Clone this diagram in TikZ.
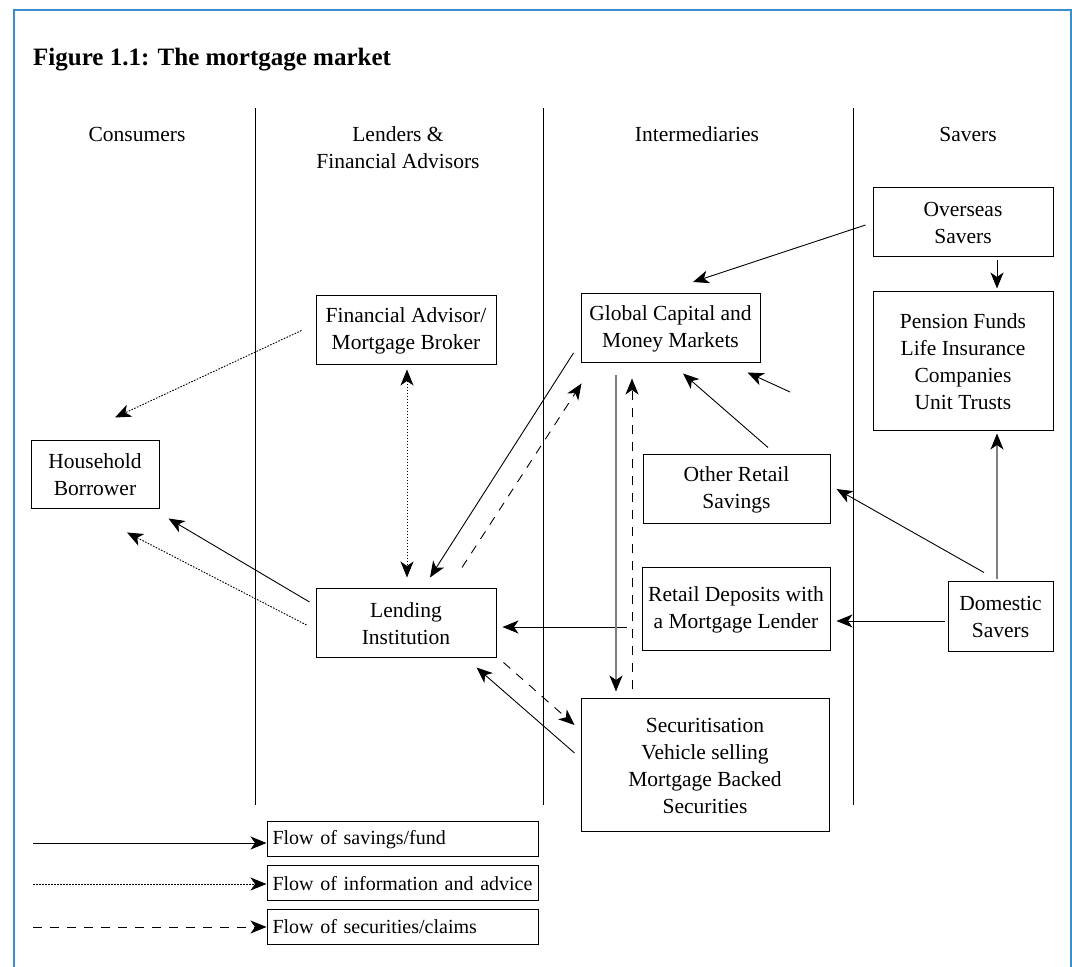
\documentclass[tikz,border=0pt]{standalone}
\usepackage{fontspec}
\setmainfont{Liberation Serif}
\usetikzlibrary{arrows.meta, calc}

\definecolor{framecol}{RGB}{58,142,204}

\tikzset{
	box/.style={draw, line width=1pt, align=center, inner sep=0pt, font=\fontsize{21.5}{27}\selectfont},
	heading/.style={align=center, inner sep=0pt, font=\fontsize{21.5}{27}\selectfont},
	key/.style={draw, line width=1pt, align=left, text width=260pt, inner xsep=5.5pt, inner ysep=0pt, minimum height=35pt, font=\fontsize{20}{24}\selectfont},
	flowtip/.tip={Stealth[length=16pt,width=13pt,inset=4.5pt]},
	flow/.style={line width=0.9pt, -flowtip},
	flowgrey/.style={line width=1.1pt, draw=black!50, -{Stealth[length=16pt,width=13pt,inset=4.5pt,color=black]}},
	info/.style={flow, dash pattern=on 1.6pt off 1.4pt},
	claim/.style={flow, dash pattern=on 9pt off 8pt},
}

\begin{document}
\begin{tikzpicture}[x=1pt, y=1pt]
		\useasboundingbox (0,0) rectangle (1072,967);

		\def\yTOP{859};
		\def\yBOT{162};

		% frame, open at the bottom
		\draw[line width=2pt, framecol] (14,0) -- (14,957) -- (1071,957) -- (1071,0);

		\node[anchor=west, inner sep=0pt, font=\bfseries\fontsize{25}{30}\selectfont] (title) at (33,907) {Figure 1.1: The mortgage market};

		% columns
		\begin{scope}[line width=1pt]
			\draw (255,\yTOP) -- (255,\yBOT);
			\draw (543,\yTOP) -- (543,\yBOT);
			\draw (853,\yTOP) -- (853,\yBOT);
		\end{scope}

		\node[heading] (consumers) at (137,833) {Consumers};
		\node[heading] (lenders) at (398,819.5) {Lenders \&\\Financial Advisors};
		\node[heading] (intermed) at (697,833) {Intermediaries};
		\node[heading] (savers) at (968,833) {Savers};

		% boxes
		\node[box, minimum width=128pt, minimum height=68pt] (house) at (95,492) {Household\\Borrower};
		\node[box, minimum width=180pt, minimum height=69pt] (advisor) at (406,636.5) {Financial Advisor/\\Mortgage Broker};
		\node[box, minimum width=180pt, minimum height=69pt] (lending) at (406,343.5) {Lending\\Institution};
		\node[box, minimum width=179pt, minimum height=69pt] (global) at (670.5,638.5) {Global Capital and\\Money Markets};
		\node[box, minimum width=187pt, minimum height=69pt] (otherret) at (736.5,477.5) {Other Retail\\Savings};
		\node[box, minimum width=188pt, minimum height=83pt] (retdep) at (736,357.5) {Retail Deposits with\\a Mortgage Lender};
		\node[box, minimum width=248pt, minimum height=133pt] (secur) at (705,201.5) {Securitisation\\Vehicle selling\\Mortgage Backed\\Securities};
		\node[box, minimum width=180pt, minimum height=69pt] (overseas) at (963,744.5) {Overseas\\Savers};
		\node[box, minimum width=180pt, minimum height=139pt] (pension) at (963,605.5) {Pension Funds\\Life Insurance\\Companies\\Unit Trusts};
		\node[box, minimum width=105pt, minimum height=70pt] (domestic) at (1000.5,350) {Domestic\\Savers};

		% savers side
		\draw[flow] ([shift={(-7,-2.5)}]overseas.west) -- ([shift={(22.5,11.5)}]global.north);
		\draw[flow] ([shift={(34,-3)}]overseas.south) -- ([shift={(34,3)}]pension.north);
		\draw[flowgrey] ([shift={(-3.5,2)}]domestic.north) -- ([shift={(34,-2)}]pension.south);
		\draw[flow] ([shift={(-16.5,9)}]domestic.north) -- ([shift={(6,0.5)}]otherret.east);
		\draw[flow] ([shift={(-3,-4)}]domestic.west) -- ([shift={(6,-11.5)}]retdep.east);
		\draw[flow] ([shift={(-15,-17.5)}]retdep.west) -- ([shift={(6,-3.5)}]lending.east);

		% into and out of the markets
		\coordinate (feed) at (790,575);
		\draw[flow] (feed) -- ([shift={(-13,-9)}]global.south east);
		\draw[flow] ([shift={(31.5,7)}]otherret.north) -- ([shift={(12.5,-10)}]global.south);
		\draw[flowgrey] ([shift={(-54.5,-12)}]global.south) -- ([shift={(-89,7)}]secur.north);
		\draw[claim] ([shift={(-73,9)}]secur.north) -- ([shift={(-38.5,-15)}]global.south);
		\draw[flow] ([shift={(-7,-24.5)}]global.west) -- ([shift={(24,11)}]lending.north);
		\draw[claim] ([shift={(56,21)}]lending.north) -- ([shift={(1,-20)}]global.south west);

		% lender and borrower
		\draw[info, flowtip-flowtip] ([shift={(1,-4)}]advisor.south) -- ([shift={(1,11)}]lending.north);
		\draw[info] ([shift={(-14,0)}]advisor.west) -- ([shift={(20,23)}]house.north);
		\draw[flow] ([shift={(-6,21.5)}]lending.west) -- ([shift={(9,-9)}]house.south east);
		\draw[info] ([shift={(-9,-1.5)}]lending.west) -- ([shift={(32,-23)}]house.south);
		\draw[claim] ([shift={(7,-4)}]lending.south east) -- ([shift={(-6,40.5)}]secur.west);
		\draw[flow] ([shift={(-6,12.5)}]secur.west) -- ([shift={(-20,-9)}]lending.south east);

		% legend
		\node[key] (leg1) at (402.5,127.5) {Flow of savings/fund};
		\node[key] (leg2) at (402.5,83.5) {Flow of information and advice};
		\node[key] (leg3) at (402.5,40) {Flow of securities/claims};

		\coordinate (key1) at (33,124);
		\coordinate (key2) at (33,83);
		\coordinate (key3) at (33,40);
		\draw[flow] (key1) -- (key1 -| leg1.west);
		\draw[info] (key2) -- (key2 -| leg2.west);
		\draw[claim] (key3) -- (key3 -| leg3.west);
	\end{tikzpicture}
\end{document}
